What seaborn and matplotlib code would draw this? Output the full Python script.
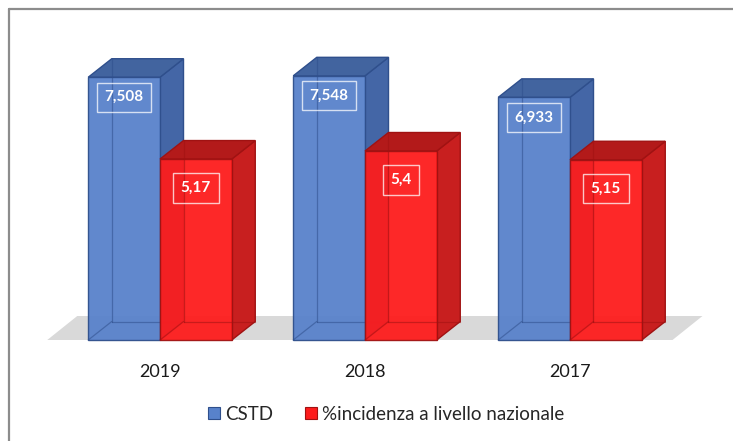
import matplotlib
matplotlib.use("Agg")
import matplotlib.pyplot as plt
import seaborn as sns
import pandas as pd
from matplotlib.patches import Polygon, Patch
from matplotlib.lines import Line2D

# ---- data ----
years = ["2019", "2018", "2017"]
cstd = [7.508, 7.548, 6.933]
incidenza = [5.17, 5.4, 5.15]
series_names = ["CSTD", "%incidenza a livello nazionale"]

df = pd.DataFrame({
    "anno": years * 2,
    "valore": cstd + incidenza,
    "serie": [series_names[0]] * 3 + [series_names[1]] * 3,
})

sns.set_theme(style="white")
plt.rcParams["font.family"] = ["Lato", "DejaVu Sans"]

W, H, DPI = 733, 441, 100
fig = plt.figure(figsize=(W / DPI, H / DPI), dpi=DPI)
ax_l, ax_r, ax_t, ax_b = 37, 713.5, 39, 350.5
ax = fig.add_axes([ax_l / W, 1 - ax_b / H, (ax_r - ax_l) / W, (ax_b - ax_t) / H])

front = {"CSTD": "#5882cb", series_names[1]: "#fd1c1c"}
side = {"CSTD": "#4466a6", series_names[1]: "#c81f1f"}
top = {"CSTD": "#42649f", series_names[1]: "#b31a1a"}
edge = {"CSTD": "#2f4f8c", series_names[1]: "#a01212"}

sns.barplot(data=df, x="anno", y="valore", hue="serie", order=years,
            hue_order=series_names, palette=front, width=0.70, gap=0,
            ax=ax, legend=False, saturation=1)

xlim = (-0.6, 2.7)
ylim = (-0.3, 8.6)
ax.set_xlim(*xlim)
ax.set_ylim(*ylim)

px_x = (ax_r - ax_l) / (xlim[1] - xlim[0])
px_y = (ax_b - ax_t) / (ylim[1] - ylim[0])
dx = 23.5 / px_x
dy = 18.5 / px_y

# floor
fdx, fdy = 30 / px_x, 24 / px_y
fl, fr = -0.55, 2.50
ax.add_patch(Polygon([(fl, 0), (fr, 0), (fr + fdx, fdy), (fl + fdx, fdy)],
                     closed=True, facecolor="#d9d9d9", edgecolor="none", zorder=0.5))

for si, (name, cont) in enumerate(zip(series_names, ax.containers)):
    base_z = 2 + si * 3
    for bar in cont:
        x0 = bar.get_x()
        w = bar.get_width()
        h = bar.get_height()
        x1 = x0 + w
        bar.set_edgecolor(edge[name])
        bar.set_linewidth(1.0)
        bar.set_alpha(0.95)
        bar.set_zorder(base_z + 1)
        ax.add_patch(Polygon([(x1, 0), (x1 + dx, dy), (x1 + dx, h + dy), (x1, h)],
                             closed=True, facecolor=side[name], edgecolor=edge[name],
                             lw=1.0, zorder=base_z))
        ax.add_patch(Polygon([(x0, h), (x1, h), (x1 + dx, h + dy), (x0 + dx, h + dy)],
                             closed=True, facecolor=top[name], edgecolor=edge[name],
                             lw=1.0, zorder=base_z))
        for xs, ys in [([x0 + dx, x0 + dx], [dy, h + dy]),
                       ([x0 + dx, x1 + dx], [dy, dy]),
                       ([x0, x0 + dx], [0, dy])]:
            ax.plot(xs, ys, color=edge[name], lw=0.9, alpha=0.55,
                    zorder=base_z + 1.5)
        off = 20 if si == 0 else 29
        ax.text(x0 + w / 2, h - off / px_y,
                f"{h:g}".replace(".", ","), ha="center", va="center",
                color="white", fontsize=11, fontweight="bold",
                zorder=base_z + 2,
                bbox=dict(boxstyle="square,pad=0.5", facecolor="none",
                          edgecolor=(1, 1, 1, 0.75), linewidth=1.0))

ax.set_xlabel("")
ax.set_ylabel("")
ax.set_yticks([])
ax.set_xticks(range(len(years)))
ax.set_xticklabels(years, fontsize=13, color="#1a1a1a")
ax.tick_params(axis="x", length=0, pad=9.5)
for s in ax.spines.values():
    s.set_visible(False)

handles = [Patch(facecolor=front[n], edgecolor=edge[n], linewidth=0.8) for n in series_names]
fig.legend(handles, series_names, loc="center", bbox_to_anchor=(386 / W, 1 - 414 / H),
           ncol=2, frameon=False, fontsize=13.5, handlelength=0.65, handleheight=0.65,
           handletextpad=0.25, columnspacing=1.7)

fig.add_artist(Line2D([9 / W, 9 / W], [0, 1 - 9 / H], transform=fig.transFigure,
                      color="#8c8c8c", lw=1.6))
fig.add_artist(Line2D([9 / W, 1], [1 - 9 / H, 1 - 9 / H], transform=fig.transFigure,
                      color="#8c8c8c", lw=1.6))

fig.savefig("out.png", dpi=DPI)
